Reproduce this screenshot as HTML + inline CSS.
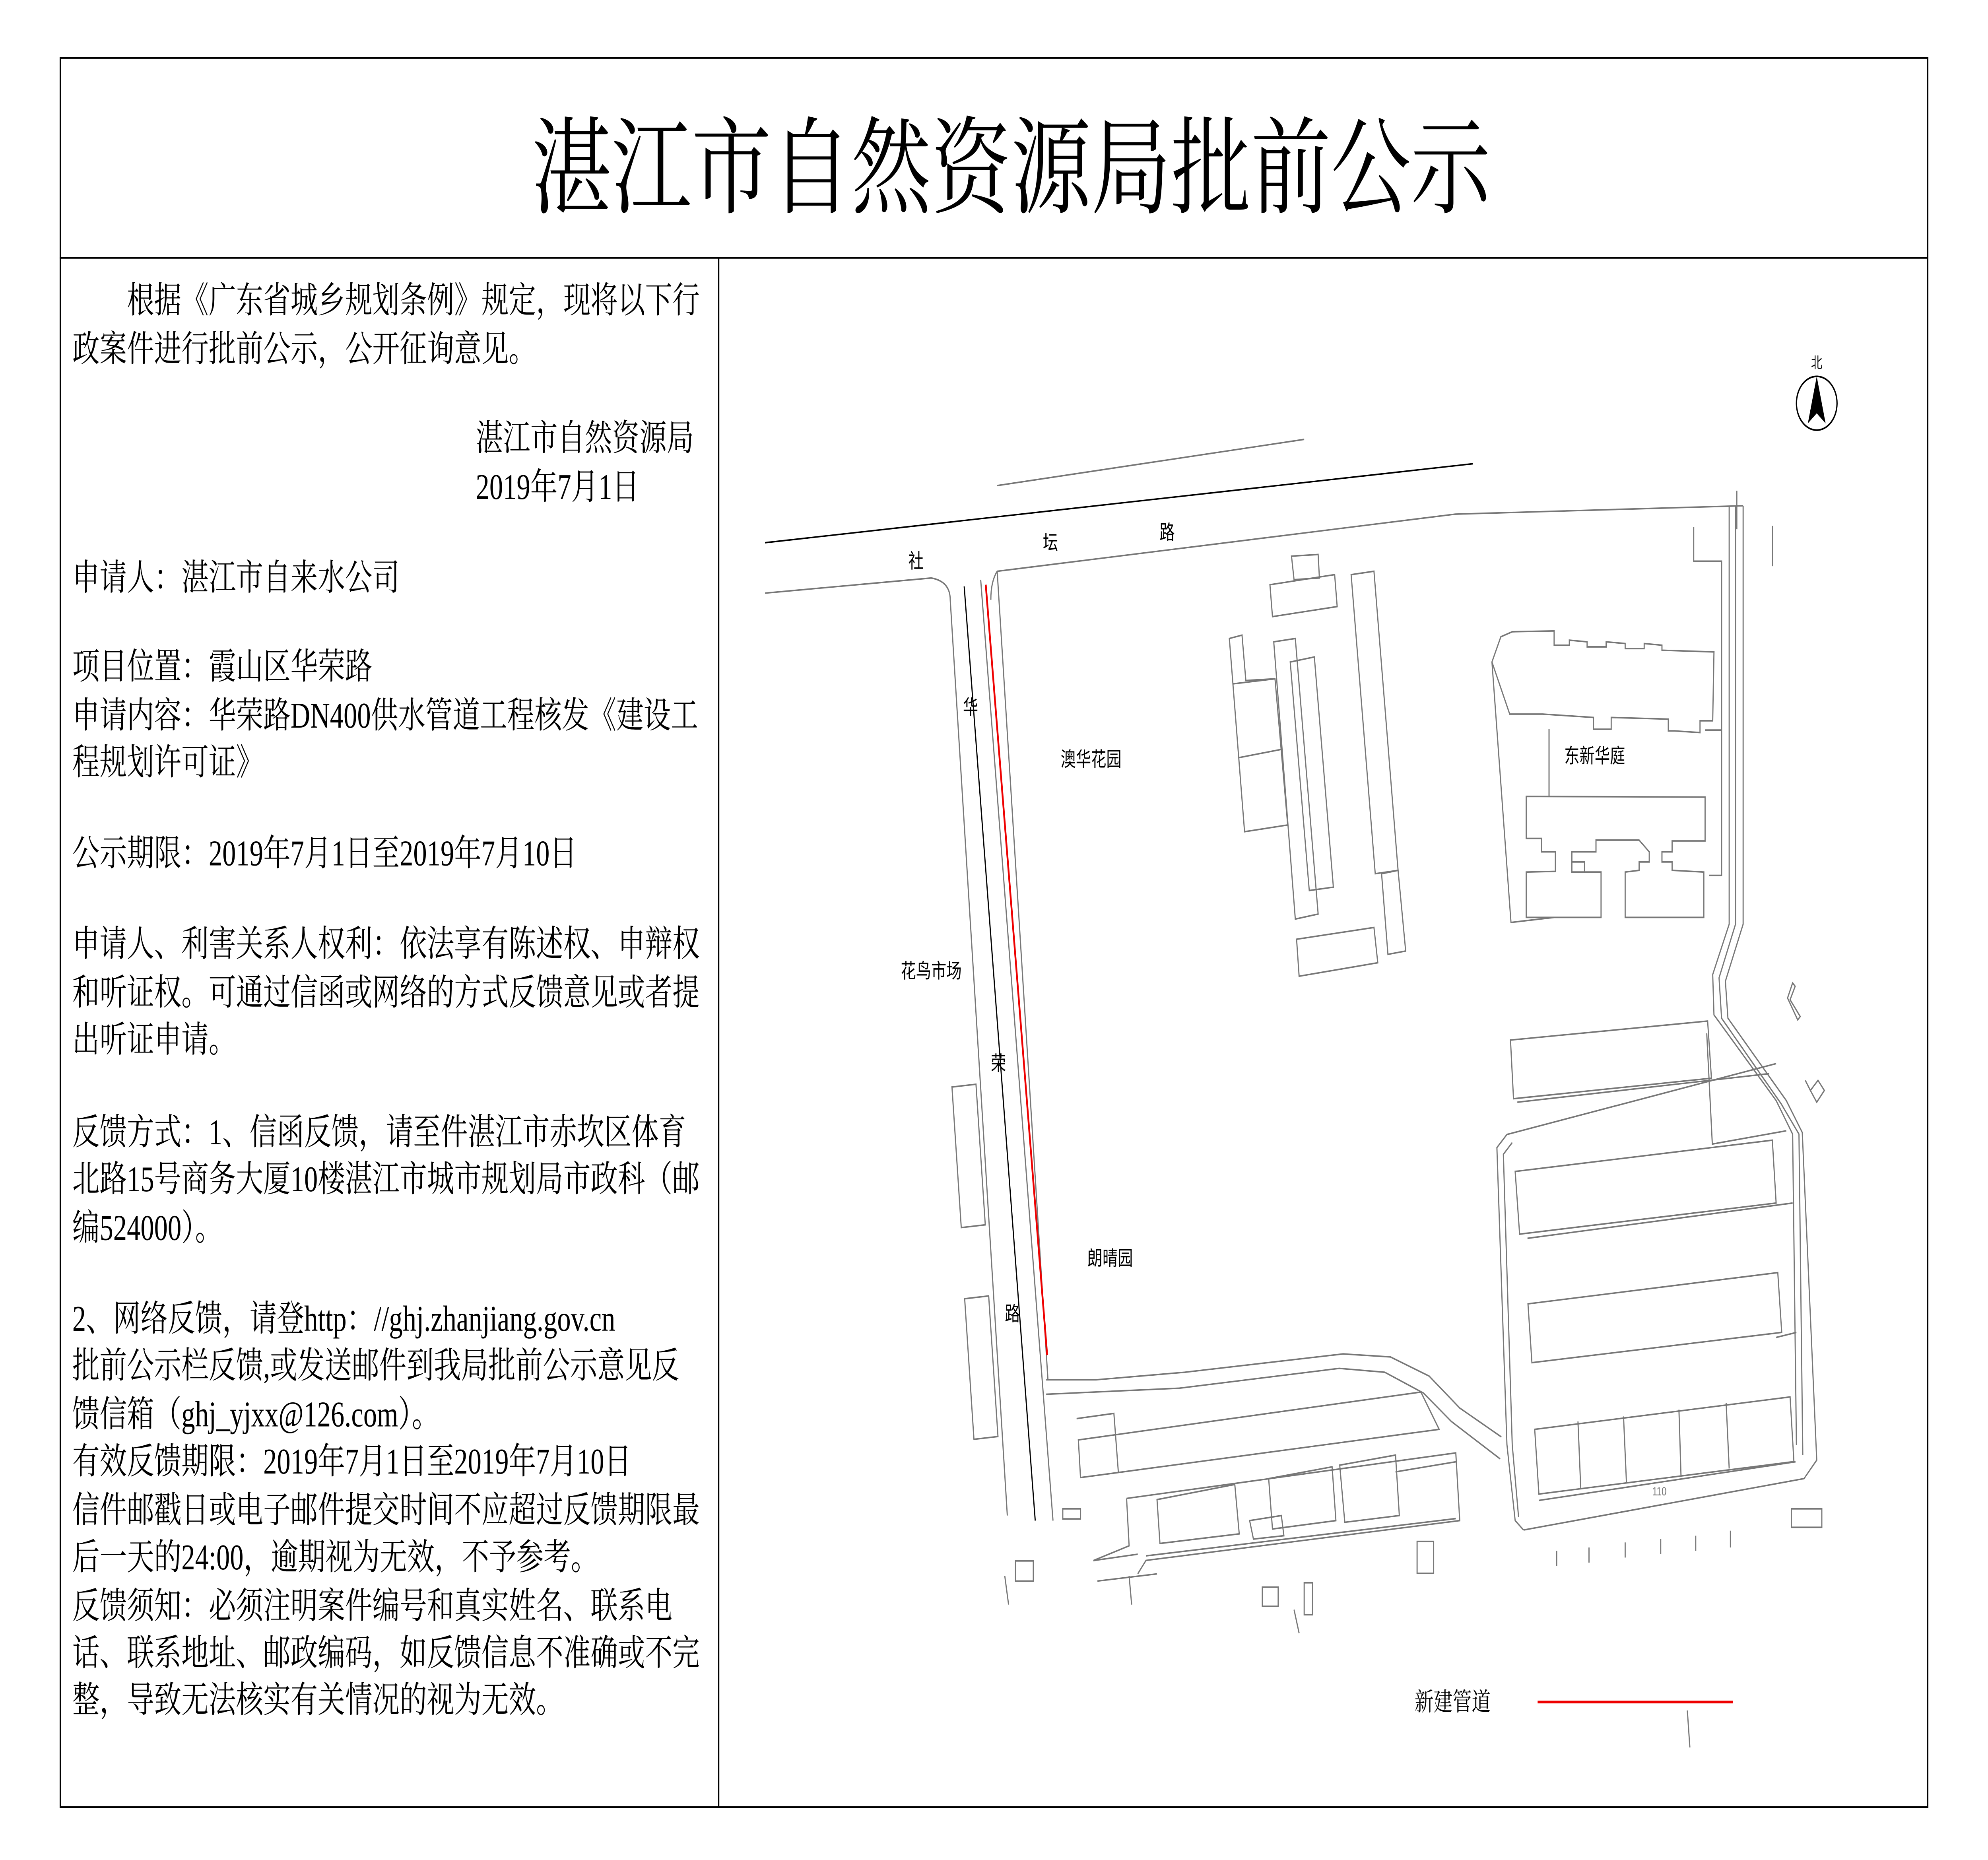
<!DOCTYPE html>
<html><head><meta charset="utf-8"><style>
html,body{margin:0;padding:0;background:#fff;width:100%;height:100%;overflow:hidden;}
svg{display:block;width:100vw;height:100vh;}
</style></head><body>
<svg viewBox="0 0 1567 1107" preserveAspectRatio="none" xmlns="http://www.w3.org/2000/svg">
<rect x="0" y="0" width="1567" height="1107" fill="#fff"/>
<g fill="none" stroke="#000" stroke-width="1">
<rect x="47.5" y="34.5" width="1472" height="1041"/>
<line x1="47" y1="153.5" x2="1519" y2="153.5"/>
<line x1="566.5" y1="153" x2="566.5" y2="1075"/>
</g>
<text x="797" y="122" font-family="'Liberation Serif','Noto Serif CJK SC',serif" font-size="63" text-anchor="middle" fill="#000">湛江市自然资源局批前公示</text>
<g font-family="'Liberation Serif','Noto Serif CJK SC',serif" font-size="21.5" fill="#000">
<text x="100" y="186">根据《广东省城乡规划条例》规定，现将以下行</text>
<text x="57" y="215">政案件进行批前公示，公开征询意见。</text>
<text x="375" y="268">湛江市自然资源局</text>
<text x="375" y="297">2019年7月1日</text>
<text x="57" y="351">申请人：湛江市自来水公司</text>
<text x="57" y="404">项目位置：霞山区华荣路</text>
<text x="57" y="433">申请内容：华荣路DN400供水管道工程核发《建设工</text>
<text x="57" y="461">程规划许可证》</text>
<text x="57" y="515">公示期限：2019年7月1日至2019年7月10日</text>
<text x="57" y="569">申请人、利害关系人权利：依法享有陈述权、申辩权</text>
<text x="57" y="598">和听证权。可通过信函或网络的方式反馈意见或者提</text>
<text x="57" y="626">出听证申请。</text>
<text x="57" y="681">反馈方式：1、信函反馈，请至件湛江市赤坎区体育</text>
<text x="57" y="709">北路15号商务大厦10楼湛江市城市规划局市政科（邮</text>
<text x="57" y="738">编524000）。</text>
<text x="57" y="792">2、网络反馈，请登http：//ghj.zhanjiang.gov.cn</text>
<text x="57" y="820">批前公示栏反馈,或发送邮件到我局批前公示意见反</text>
<text x="57" y="849">馈信箱（ghj_yjxx@126.com）。</text>
<text x="57" y="877">有效反馈期限：2019年7月1日至2019年7月10日</text>
<text x="57" y="906">信件邮戳日或电子邮件提交时间不应超过反馈期限最</text>
<text x="57" y="934">后一天的24:00，逾期视为无效，不予参考。</text>
<text x="57" y="963">反馈须知：必须注明案件编号和真实姓名、联系电</text>
<text x="57" y="991">话、联系地址、邮政编码，如反馈信息不准确或不完</text>
<text x="57" y="1019">整，导致无法核实有关情况的视为无效。</text>
</g>
<!-- roads -->
<g fill="none" stroke="#000" stroke-width="0.9">
<line x1="603" y1="323" x2="1161" y2="276"/>
<path d="M760 349 L816 905"/>
</g>
<g fill="none" stroke="#777" stroke-width="0.9">
<line x1="786" y1="289" x2="1028" y2="261.5"/>
<path d="M603 353 L734 344 Q749 346 749 357 L794 902"/>
<path d="M773 345 L830 905"/>
<path d="M781 357 Q781 346 786 340 L1147 306 L1374 301"/>
<path d="M786 340 L826 821"/>
<line x1="1369" y1="292" x2="1369" y2="315"/>
<path d="M1363 301 L1363 550 L1350 580 L1351 604 L1400 655 L1413 675 L1416 860"/>
<path d="M1368 301 L1368 550 L1355 582 L1357 606 L1404 657 L1418 675 L1421 866"/>
<path d="M1374 301 L1374 550 L1360 584 L1362 606 L1408 655 L1420.6 674 L1432 869 L1422 880 L1201 910.6"/>
<path d="M1335 313.6 L1335 334 L1357 334 L1357 521 L1347 521"/>
<line x1="1344" y1="434.5" x2="1357" y2="434.5"/>
<line x1="1397" y1="313" x2="1397" y2="337"/>
<path d="M1409 594 L1413 585 L1415 587 L1411 595 L1419 605 L1417 607 Z"/>
<path d="M1427 649 L1433 643 L1438 649 L1432 656 Z"/>
<path d="M1423 643 L1427 649"/>
<!-- 澳华花园 buildings -->
<path d="M1018 331 L1039 330 L1040 344 L1020 345 Z"/>
<path d="M1001 348 L1052 342 L1054 361 L1003 367 Z"/>
<path d="M1065 342 L1083 340 L1102 518 L1084 520 Z"/>
<path d="M1089 520 L1102 518 L1108 566 L1094 568 Z"/>
<path d="M969 380 L979 378 L982 405 L1005 404 L1015 491 L981 495 Z"/>
<line x1="972" y1="407" x2="1005" y2="404"/>
<line x1="976" y1="451" x2="1010" y2="446"/>
<path d="M1004 382 L1021 380 L1039 544 L1021 547 Z"/>
<path d="M1017 394 L1036 391 L1051 528 L1032 530 Z"/>
<path d="M1022 559 L1083 552 L1086 573 L1024 581 Z"/>
<!-- 东新华庭 -->
<path d="M1176 394 L1183 379 L1192 376 L1225 375.5 L1225 384 L1237 384 L1237 381 L1251 382 L1251 385 L1266 385 L1266 382 L1281 383 L1281 386 L1296 386 L1296 383 L1310 384 L1310 387 L1351 388 L1350 429 L1340 429 L1340 436 L1320 435 L1315 435 L1315 428 L1270 427 L1270 434 L1256 434 L1256 427 L1216 425 L1190 425 Z"/>
<path d="M1176 394 L1191 549 L1225 546"/>
<line x1="1221" y1="434" x2="1221" y2="474"/>
<path d="M1203 474 L1344 474.4 L1344 500.5 L1318 500.5 L1318 507 L1310 507 L1310 513 L1318 513 L1318 518 L1343 519 L1343 546 L1281 546 L1281 519 L1292 518 L1292 513 L1300 513 L1300 507 L1292 500 L1258 500 L1258 507 L1239 507 L1239 519 L1262 519 L1262 546 L1203 546 L1203 519 L1226 518.6 L1226 507 L1215 507 L1215 499 L1203 499 Z"/>
<path d="M1239 513 L1249 513 L1249 519"/>
<!-- right lower blocks -->
<path d="M1190.6 619 L1346 607.7 L1349 641.7 L1193 653.9 Z"/>
<path d="M1196 656 L1394.5 639"/>
<path d="M1345.3 615 L1349.7 680.9 L1408 673"/>
<path d="M1187.8 675.2 L1400 633"/>
<path d="M1187.8 675.2 L1179.9 683 L1187.8 859.7 L1194.3 905 L1200.9 910.6"/>
<path d="M1192 680 L1185 687 L1192 860 L1197 903"/>
<path d="M1194.3 697.2 L1397 678.6 L1400 716 L1197.8 734.5 Z"/>
<line x1="1204" y1="737" x2="1413" y2="716"/>
<path d="M1204.4 776 L1401.3 757.4 L1404.4 793 L1207.5 811 Z"/>
<line x1="1400" y1="796" x2="1416" y2="793"/>
<path d="M1209.7 850.7 L1411 831.4 L1414 869.9 L1213 889.2 Z"/>
<line x1="1243.8" y1="846" x2="1246" y2="886"/>
<line x1="1279.7" y1="843" x2="1282" y2="882"/>
<line x1="1323.4" y1="839" x2="1325" y2="878"/>
<line x1="1360.6" y1="835" x2="1363" y2="874"/>
<line x1="1213" y1="893" x2="1415.3" y2="870"/>
<!-- lower boundary strip -->
<path d="M824.6 821.2 L864 821.2 L934 816.7 L1058.7 805.8 L1096 807.6 L1126.5 819 L1150.6 838 L1183.4 855.2"/>
<path d="M824.6 829.8 L929.6 826.2 L1055.6 814.4 L1091.5 816.7 L1122 829.1 L1144 846 L1182.5 868.3"/>
<path d="M850 857 L1120 828.5 L1134.4 850.7 L851.7 879.4 Z"/>
<path d="M848.6 844.3 L878 841.2 L881.5 876"/>
<path d="M888 891.8 L1147.5 864.7 L1150.6 905 L903.3 928.7 L896.8 936.7"/>
<path d="M888 891.8 L890 920 L861.8 928.8"/>
<path d="M912 892.5 L973.3 883.5 L976.8 912.9 L914.3 918.6 Z"/>
<path d="M1000 880 L1050 873 L1053 905 L1003 910 Z"/>
<path d="M1056 872 L1100 866 L1103 902 L1060 906 Z"/>
<path d="M1100 876 L1147.5 870"/>
<path d="M985 905 L1010 902 L1012 914 L988 916 Z"/>
<line x1="861.8" y1="928.8" x2="896.8" y2="925"/>
<line x1="903.3" y1="926" x2="1147.5" y2="903.8"/>
<!-- left small rects -->
<rect x="754" y="646" width="19" height="84" transform="rotate(-5 763 688)"/>
<rect x="764" y="772" width="19" height="84" transform="rotate(-5 773 814)"/>
<rect x="837.7" y="898" width="14" height="6"/>
<rect x="800.5" y="929" width="14" height="12"/>
<rect x="1412" y="898" width="24" height="11"/>
<rect x="1117" y="917.4" width="13" height="19"/>
<rect x="995" y="944.6" width="12.5" height="11.4"/>
<rect x="1028" y="942" width="6.6" height="19"/>
<line x1="865" y1="941" x2="912" y2="936.7"/>
<line x1="1227" y1="923" x2="1227" y2="932"/>
<line x1="1252.5" y1="921" x2="1252.5" y2="930"/>
<line x1="1281" y1="918" x2="1281" y2="927"/>
<line x1="1309" y1="916" x2="1309" y2="925"/>
<line x1="1336.6" y1="914" x2="1336.6" y2="923"/>
<line x1="1364" y1="911" x2="1364" y2="921"/>
<line x1="1330" y1="1018" x2="1332" y2="1040"/>
<line x1="792" y1="938" x2="795" y2="955"/>
<line x1="890" y1="938" x2="892" y2="955"/>
<line x1="1020" y1="958" x2="1024" y2="972"/>
</g>
<line x1="777" y1="348" x2="825.4" y2="806.5" stroke="#e00" stroke-width="1.4"/>
<line x1="1212" y1="1013" x2="1366" y2="1013" stroke="#e00" stroke-width="1.6"/>
<g fill="none" stroke="#000" stroke-width="1">
<circle cx="1432" cy="240" r="16"/>
</g>
<path d="M1432 224 L1425 252 L1432 246 L1439 252 Z" fill="#000"/>
<g font-family="'Liberation Sans','Noto Sans CJK SC',sans-serif" font-size="12" fill="#000">
<text x="1432" y="219" text-anchor="middle" font-size="9">北</text>
<text x="722" y="338" text-anchor="middle">社</text>
<text x="828" y="327" text-anchor="middle">坛</text>
<text x="920" y="321" text-anchor="middle">路</text>
<text x="765" y="425" text-anchor="middle">华</text>
<text x="787" y="637" text-anchor="middle">荣</text>
<text x="798" y="786" text-anchor="middle">路</text>
<text x="860" y="456" text-anchor="middle">澳华花园</text>
<text x="1257" y="454" text-anchor="middle">东新华庭</text>
<text x="734" y="582" text-anchor="middle">花鸟市场</text>
<text x="875" y="753" text-anchor="middle">朗晴园</text>
<text x="1308" y="890" text-anchor="middle" font-size="7" fill="#777">110</text>
</g>
<text x="1145" y="1018" font-family="'Liberation Serif','Noto Serif CJK SC',serif" font-size="15" text-anchor="middle" fill="#000">新建管道</text>
</svg>
</body></html>
